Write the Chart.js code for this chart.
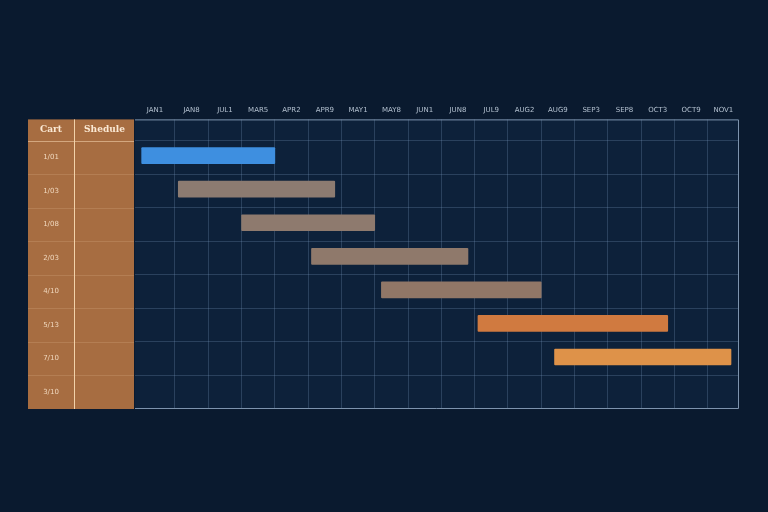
<!DOCTYPE html>
<html>
<head>
<meta charset="utf-8">
<script src="https://cdn.jsdelivr.net/npm/chart.js@4.4.1/dist/chart.umd.min.js"></script>
<style>
  html, body { margin: 0; padding: 0; background: #0a1a2f; }
  #wrap { width: 768px; height: 512px; position: relative; }
</style>
</head>
<body>
<div id="wrap"><canvas id="gantt"></canvas></div>
<script>
// column headings along the top (one per time slot)
const colLabels = ['JAN1', 'JAN8', 'JUL1', 'MAR5', 'APR2', 'APR9', 'MAY1', 'MAY8', 'JUN1',
    'JUN8', 'JUL9', 'AUG2', 'AUG9', 'SEP3', 'SEP8', 'OCT3', 'OCT9', 'NOV1'];
// row labels in the left panel
const rowLabels = ['1/01', '1/03', '1/08', '2/03', '4/10', '5/13', '7/10', '3/10'];
// task spans, in time slots
const taskStart = [0, 1.1, 3, 5.1, 7.2, 10.1, 12.4];
const taskEnd = [4, 5.8, 7, 9.8, 12, 15.8, 17.7];
const taskColors = ['#3e8fe0', '#8c7b71', '#8e7a6e', '#8f796b', '#917767', '#d07a40', '#de9249'];

// scale range
const xMin = -0.2;
const xMax = 17.94;
const headerSpan = 0.63;

const panelLeft = 28;
const panelSplit = 74;

const panelPlugin = {
    id: 'panel',
    beforeDraw(chart) {
        const { ctx, chartArea, scales } = chart;
        const y = scales.y;
        ctx.save();
        // chart area background
        ctx.fillStyle = '#0d213a';
        ctx.fillRect(chartArea.left, chartArea.top, chartArea.right - chartArea.left, chartArea.bottom - chartArea.top);
        // left brown panel
        ctx.fillStyle = '#a76d41';
        ctx.fillRect(panelLeft, chartArea.top, chartArea.left - panelLeft - 1, chartArea.bottom - chartArea.top);
        // row separators in panel
        ctx.strokeStyle = 'rgba(255, 225, 190, 0.15)';
        ctx.lineWidth = 1;
        for (let i = 1; i < rowLabels.length; i++) {
            const py = Math.round(y.getPixelForValue(i)) + 0.5;
            ctx.beginPath();
            ctx.moveTo(panelLeft, py);
            ctx.lineTo(chartArea.left - 1, py);
            ctx.stroke();
        }
        const hy = Math.round(y.getPixelForValue(0)) + 0.5;
        ctx.strokeStyle = 'rgba(255, 225, 190, 0.5)';
        ctx.beginPath();
        ctx.moveTo(panelLeft, hy);
        ctx.lineTo(chartArea.left - 1, hy);
        ctx.stroke();
        // column divider
        ctx.strokeStyle = '#f2d2aa';
        ctx.beginPath();
        ctx.moveTo(panelSplit + 0.5, chartArea.top);
        ctx.lineTo(panelSplit + 0.5, chartArea.bottom);
        ctx.stroke();

        // header text
        ctx.fillStyle = '#fbe9d4';
        ctx.textAlign = 'center';
        ctx.textBaseline = 'middle';
        const headY = (chartArea.top + y.getPixelForValue(0)) / 2;
        ctx.font = 'bold 9px "DejaVu Serif"';
        ctx.fillText('Cart', (panelLeft + panelSplit) / 2, headY);
        ctx.fillText('Shedule', (panelSplit + chartArea.left) / 2, headY);

        // row labels
        ctx.fillStyle = '#f1d9bf';
        ctx.font = '7px "DejaVu Sans"';
        rowLabels.forEach((lab, i) => {
            ctx.fillText(lab, (panelLeft + panelSplit) / 2, y.getPixelForValue(i + 0.5));
        });
        ctx.restore();
    },
    beforeDatasetsDraw(chart) {
        const { ctx, chartArea } = chart;
        ctx.save();
        ctx.strokeStyle = '#7d93ad';
        ctx.lineWidth = 1;
        ctx.beginPath();
        ctx.moveTo(chartArea.left, chartArea.top + 0.5);
        ctx.lineTo(chartArea.right - 0.5, chartArea.top + 0.5);
        ctx.lineTo(chartArea.right - 0.5, chartArea.bottom - 0.5);
        ctx.lineTo(chartArea.left, chartArea.bottom - 0.5);
        ctx.stroke();
        ctx.restore();
    }
};

const bars = taskStart.map((s, i) => ({ x: [s, taskEnd[i]], y: i + 0.45 }));

new Chart(document.getElementById('gantt'), {
    type: 'bar',
    data: {
        datasets: [{
            data: bars,
            backgroundColor: taskColors,
            borderWidth: 0,
            barThickness: 16,
            borderRadius: 1,
            borderSkipped: false,
        }],
    },
    options: {
        indexAxis: 'y',
        responsive: true,
        maintainAspectRatio: false,
        animation: false,
        layout: { padding: { left: 135, right: 29, top: 101, bottom: 103 } },
        plugins: { legend: { display: false }, tooltip: { enabled: false } },
        scales: {
            x: {
                type: 'linear',
                position: 'bottom',
                min: xMin,
                max: xMax,
                offset: false,
                afterBuildTicks: axis => {
                    axis.ticks = colLabels.slice(1).map((_, i) => ({ value: i + 1 }));
                },
                ticks: { display: false },
                grid: { color: 'rgba(120, 150, 185, 0.28)', drawTicks: false, offset: false },
                border: { display: false },
            },
            x2: {
                type: 'linear',
                position: 'top',
                min: xMin,
                max: xMax,
                offset: false,
                afterBuildTicks: axis => {
                    axis.ticks = colLabels.map((_, i) => {
                        const a = i === 0 ? xMin : i;
                        const b = i === colLabels.length - 1 ? xMax : i + 1;
                        return { value: (a + b) / 2 };
                    });
                },
                ticks: {
                    autoSkip: false,
                    maxRotation: 0,
                    padding: 5,
                    color: '#b3c0cf',
                    font: { family: 'DejaVu Sans', size: 7 },
                    callback: (v, i) => colLabels[i],
                },
                grid: { display: false, drawTicks: false },
                border: { display: false },
            },
            y: {
                type: 'linear',
                reverse: true,
                offset: false,
                min: -headerSpan,
                max: rowLabels.length,
                afterBuildTicks: axis => {
                    axis.ticks = rowLabels.map((_, i) => ({ value: i }));
                },
                ticks: { display: false },
                grid: { color: 'rgba(120, 150, 185, 0.28)', drawTicks: false, offset: false },
                border: { display: false },
            },
        },
    },
    plugins: [panelPlugin],
});
</script>
</body>
</html>
